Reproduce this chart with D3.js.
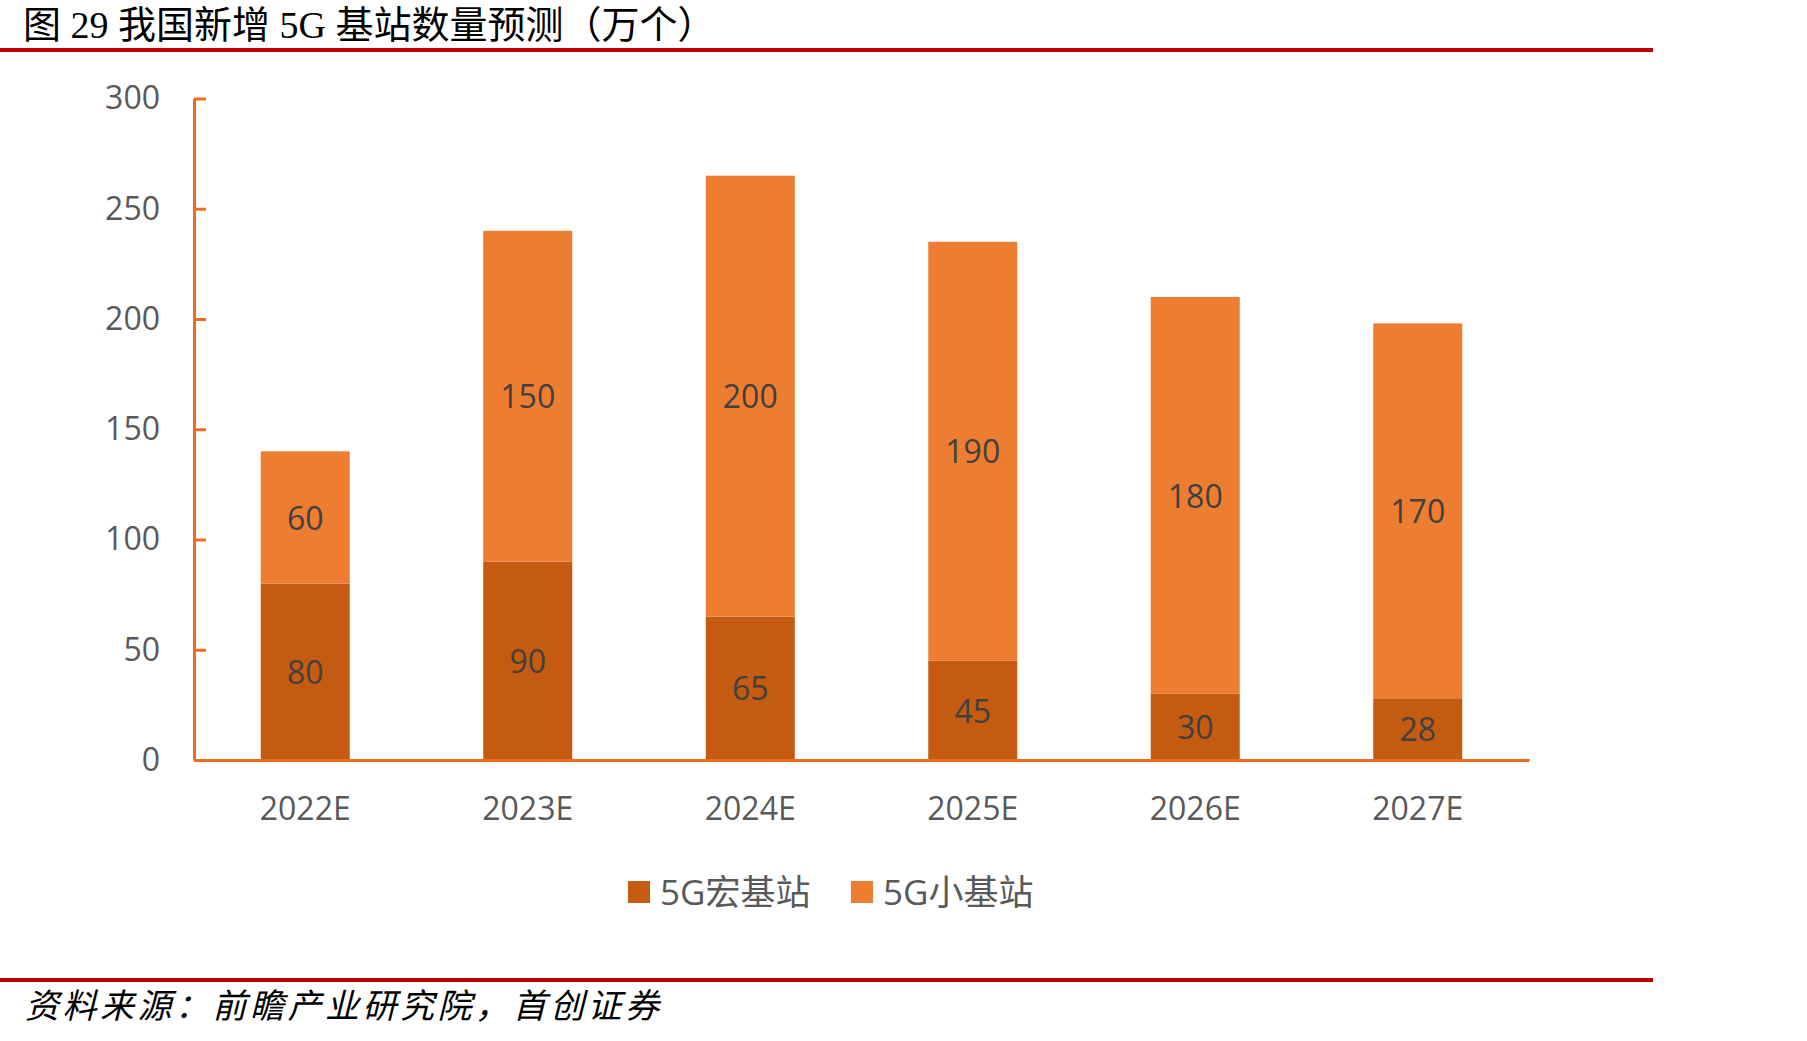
<!DOCTYPE html>
<html>
<head>
<meta charset="utf-8">
<script src="https://cdn.jsdelivr.net/npm/d3@7"></script>
<style>
  body { margin: 0; background: #fff; }
  svg { display: block; }
</style>
</head>
<body>
<script>
// data (万个)
const years = ["2022E", "2023E", "2024E", "2025E", "2026E", "2027E"];
const macro = [80, 90, 65, 45, 30, 28];      // 5G宏基站
const small = [60, 150, 200, 190, 180, 170]; // 5G小基站
const seriesNames = ["5G宏基站", "5G小基站"];
const yTicks = [0, 50, 100, 150, 200, 250, 300];

const W = 1807, H = 1041;
const colors = ["#C55A11", "#ED7D31"];
const axisColor = "#EE6C1F";
const latin = "'Open Sans', 'Noto Sans CJK SC', sans-serif";

const svg = d3.select("body").append("svg")
    .attr("width", W)
    .attr("height", H);

// title + red rules
svg.append("text")
    .attr("x", 23)
    .attr("y", 38)
    .attr("font-family", "'Liberation Serif', 'Noto Sans CJK SC', serif")
    .attr("font-size", 38)
    .attr("fill", "#000")
    .text("图 29 我国新增 5G 基站数量预测（万个）");

svg.append("rect").attr("x", 0).attr("y", 48).attr("width", 1653).attr("height", 4).attr("fill", "#C00000");
svg.append("rect").attr("x", 0).attr("y", 978).attr("width", 1653).attr("height", 4).attr("fill", "#C00000");

svg.append("text")
    .attr("x", 25)
    .attr("y", 1018)
    .attr("font-family", "'Noto Sans CJK SC', sans-serif")
    .attr("font-size", 34)
    .attr("font-style", "italic")
    .attr("letter-spacing", 3.5)
    .attr("fill", "#000")
    .text("资料来源：前瞻产业研究院，首创证券");

// scales
const x = d3.scaleBand()
    .domain(years)
    .range([194, 1529])
    .paddingInner(0.6)
    .paddingOuter(0.3);

const y = d3.scaleLinear()
    .domain([0, 300])
    .range([760, 98.5]);

// stack the two series
const rows = years.map((yr, i) => ({year: yr, macro: macro[i], small: small[i]}));
const stacked = d3.stack().keys(["macro", "small"])(rows);

const layers = svg.selectAll(".layer")
    .data(stacked)
    .enter().append("g")
    .attr("class", "layer")
    .attr("fill", (d, i) => colors[i]);

layers.selectAll("rect")
    .data(d => d)
    .enter().append("rect")
    .attr("x", d => x(d.data.year))
    .attr("y", d => y(d[1]))
    .attr("width", x.bandwidth())
    .attr("height", d => y(d[0]) - y(d[1]));

// value labels in the middle of each segment
layers.selectAll("text")
    .data(d => d)
    .enter().append("text")
    .attr("x", d => x(d.data.year) + x.bandwidth() / 2)
    .attr("y", d => y((d[0] + d[1]) / 2))
    .attr("dy", "0.38em")
    .attr("text-anchor", "middle")
    .attr("font-family", latin)
    .attr("font-size", 32)
    .attr("fill", "#404040")
    .text(d => d[1] - d[0]);

// y axis, ticks pointing into the plot
const yAxis = d3.axisLeft(y)
    .tickValues(yTicks)
    .tickSizeInner(-12)
    .tickSizeOuter(0)
    .tickPadding(34);

const gy = svg.append("g")
    .attr("transform", "translate(194,0)")
    .call(yAxis);
gy.select(".domain").attr("stroke", axisColor).attr("stroke-width", 3);
gy.selectAll(".tick line").attr("stroke", axisColor).attr("stroke-width", 3);
gy.selectAll(".tick text")
    .attr("font-family", latin)
    .attr("font-size", 32)
    .attr("fill", "#595959");

// x axis
const xAxis = d3.axisBottom(x)
    .tickSize(0)
    .tickPadding(37);

const gx = svg.append("g")
    .attr("transform", "translate(0,760)")
    .call(xAxis);
gx.select(".domain").attr("stroke", axisColor).attr("stroke-width", 3);
gx.selectAll(".tick text")
    .attr("font-family", latin)
    .attr("font-size", 32)
    .attr("fill", "#595959");

// legend
const legendX = [628, 851];
const legend = svg.selectAll(".legend")
    .data(seriesNames)
    .enter().append("g")
    .attr("class", "legend")
    .attr("transform", (d, i) => "translate(" + legendX[i] + ",881)");

legend.append("rect")
    .attr("width", 22)
    .attr("height", 22)
    .attr("fill", (d, i) => colors[i]);

legend.append("text")
    .attr("x", 32)
    .attr("y", 11)
    .attr("dy", "0.36em")
    .attr("font-family", latin)
    .attr("font-size", 35)
    .attr("fill", "#595959")
    .text(d => d);
</script>
</body>
</html>
